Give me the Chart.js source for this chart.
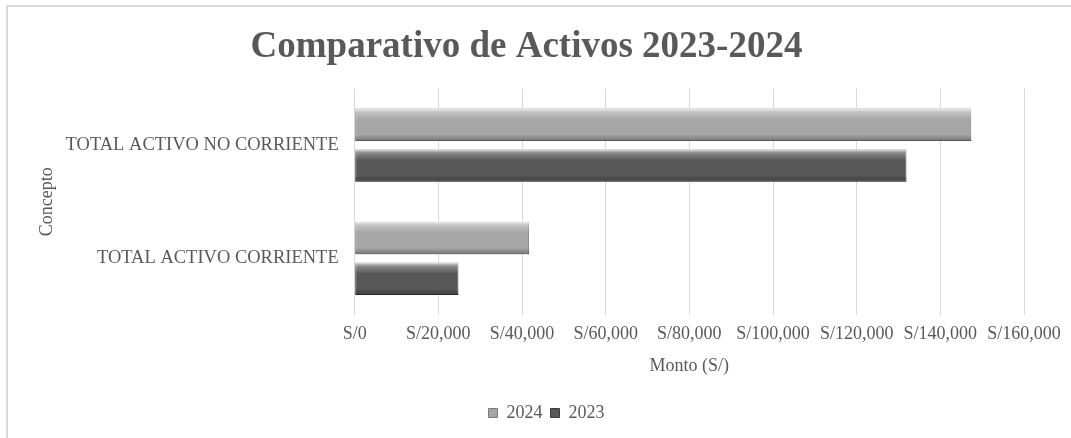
<!DOCTYPE html>
<html>
<head>
<meta charset="utf-8">
<script src="https://cdn.jsdelivr.net/npm/chart.js@4.4.1/dist/chart.umd.min.js"></script>
<style>
    html, body { margin: 0; padding: 0; background: #fff; }
    #wrap { position: relative; width: 1071px; height: 438px; }
    #frame { position: absolute; left: 6px; top: 5px; width: 1080px; height: 460px;
             border-left: 2px solid #d9d9d9; border-top: 2px solid #d9d9d9; }
    canvas { position: absolute; left: 0; top: 0; }
</style>
</head>
<body>
<div id="wrap">
    <div id="frame"></div>
    <canvas id="assetsChart" width="1071" height="438"></canvas>
</div>
<script>
const categories = ['TOTAL ACTIVO NO CORRIENTE', 'TOTAL ACTIVO CORRIENTE'];
const seriesNames = ['2024', '2023'];
const values2024 = [147400, 41700];
const values2023 = [131900, 24800];
const tickValues = [0, 20000, 40000, 60000, 80000, 100000, 120000, 140000, 160000];

const fontFamily = '"Liberation Serif", "Times New Roman", serif';
const textColor = '#595959';

// bevel look: light strip on top, darker edge at bottom of each bar
const bevelPlugin = {
    id: 'bevel',
    afterDatasetsDraw(chart) {
        const ctx = chart.ctx;
        chart.data.datasets.forEach((ds, i) => {
            const meta = chart.getDatasetMeta(i);
            meta.data.forEach(bar => {
                const p = bar.getProps(['x', 'y', 'base', 'height'], true);
                const top = p.y - p.height / 2;
                const left = Math.min(p.x, p.base);
                const w = Math.abs(p.x - p.base);
                const g = ctx.createLinearGradient(0, top, 0, top + p.height);
                g.addColorStop(0, 'rgba(255,255,255,0.8)');
                g.addColorStop(0.12, 'rgba(255,255,255,0.3)');
                g.addColorStop(0.35, 'rgba(255,255,255,0)');
                g.addColorStop(0.8, 'rgba(0,0,0,0)');
                g.addColorStop(1, 'rgba(0,0,0,0.3)');
                ctx.save();
                ctx.fillStyle = g;
                ctx.fillRect(left, top, w, p.height);
                ctx.restore();
            });
        });
    }
};

// the legend sits a little right of the canvas centre
const legendShift = {
    id: 'legendShift',
    afterLayout(chart) {
        chart.legend.left += 20;
        chart.legend.right += 20;
    }
};

const ctx = document.getElementById('assetsChart').getContext('2d');
new Chart(ctx, {
    type: 'bar',
    data: {
        labels: categories,
        datasets: [
            {
                label: seriesNames[0],
                data: values2024,
                backgroundColor: '#a6a6a6',
                borderColor: '#7a7a7a',
                borderWidth: 1,
                borderSkipped: false,
                categoryPercentage: 0.72,
                barPercentage: 0.8
            },
            {
                label: seriesNames[1],
                data: values2023,
                backgroundColor: '#575757',
                borderColor: '#3a3a3a',
                borderWidth: 1,
                borderSkipped: false,
                categoryPercentage: 0.72,
                barPercentage: 0.8
            }
        ]
    },
    options: {
        indexAxis: 'y',
        responsive: false,
        animation: false,
        layout: { padding: { left: 29, right: 47, top: 10, bottom: 6 } },
        plugins: {
            title: {
                display: true,
                text: 'Comparativo de Activos 2023-2024',
                color: textColor,
                font: { family: fontFamily, size: 37, weight: 'bold' },
                padding: { top: 15, bottom: 19 }
            },
            legend: {
                position: 'bottom',
                labels: {
                    color: textColor,
                    font: { family: fontFamily, size: 18 },
                    boxWidth: 9,
                    boxHeight: 9,
                    padding: 8
                }
            },
            tooltip: { enabled: false }
        },
        scales: {
            x: {
                min: 0,
                max: 160000,
                afterBuildTicks: axis => { axis.ticks = tickValues.map(v => ({ value: v })); },
                grid: { color: '#d9d9d9', lineWidth: 1, drawTicks: false },
                border: { display: false },
                ticks: {
                    color: textColor,
                    font: { family: fontFamily, size: 18, lineHeight: 1 },
                    padding: 10,
                    maxRotation: 0,
                    callback: v => 'S/' + v.toLocaleString('en-US')
                },
                title: {
                    display: true,
                    text: 'Monto (S/)',
                    color: textColor,
                    font: { family: fontFamily, size: 18, lineHeight: 1 },
                    padding: { top: 4, bottom: 21 }
                }
            },
            y: {
                grid: { display: false },
                border: { display: false },
                ticks: {
                    color: textColor,
                    font: { family: fontFamily, size: 18.5 },
                    padding: 8
                },
                title: {
                    display: true,
                    text: 'Concepto',
                    color: textColor,
                    font: { family: fontFamily, size: 18 },
                    padding: { top: 7, bottom: 0 }
                }
            }
        }
    },
    plugins: [bevelPlugin, legendShift]
});
</script>
</body>
</html>
